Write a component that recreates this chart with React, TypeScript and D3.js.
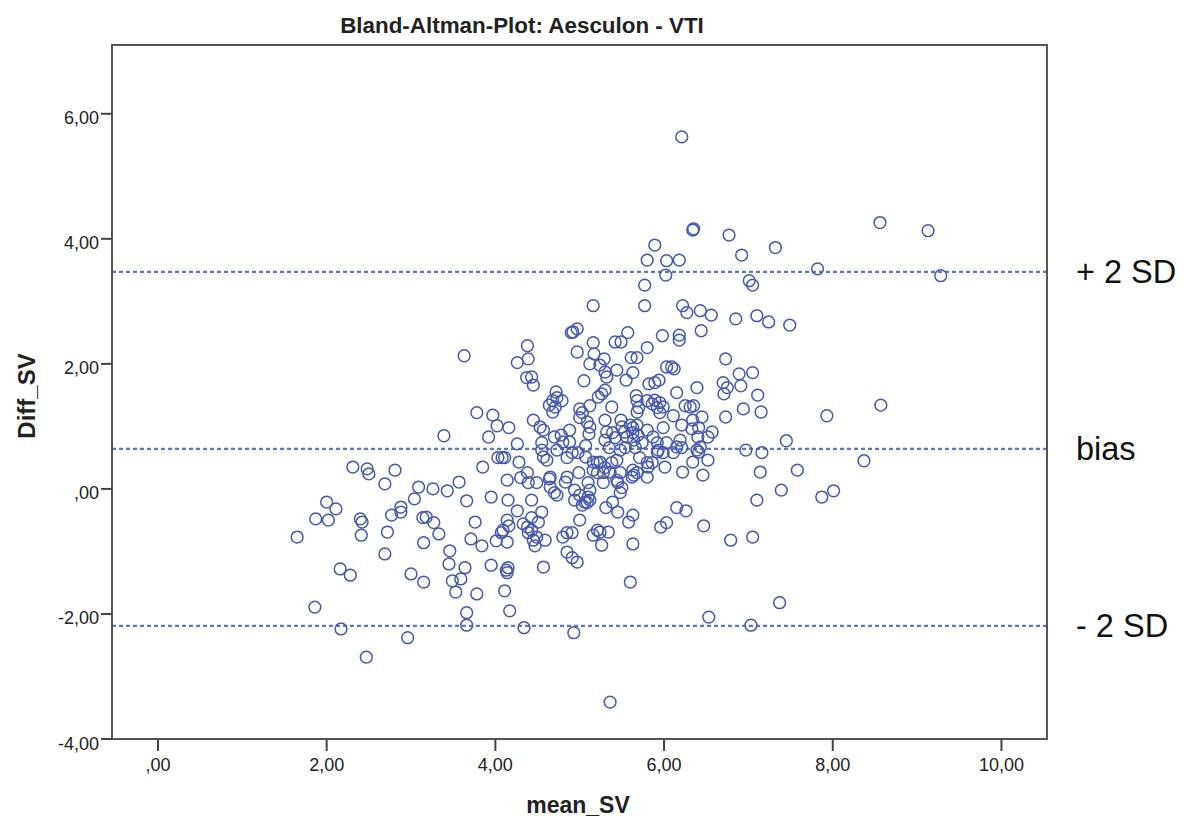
import React from "react";
import * as d3 from "d3";

const meanSV: number[] = [
1.65,1.87,2.00,2.02,2.11,2.16,2.28,1.86,2.17,2.31,2.48,2.50,2.81,2.69,2.40,2.42,2.41,2.72,2.69,2.77,2.88,2.88,3.09,3.04,3.26,3.43,3.14,3.18,3.27,3.33,3.15,3.00,3.15,2.96,2.47,3.39,3.63,3.57,3.66,3.46,3.45,3.64,3.49,3.59,3.53,3.78,3.71,3.84,3.66,3.66,3.76,3.95,3.95,4.01,4.07,4.14,4.15,4.16,4.26,4.33,4.38,4.39,4.13,4.14,4.15,4.11,4.17,4.34,
3.78,3.97,4.02,4.16,3.92,4.26,4.03,4.08,4.11,4.28,3.85,4.14,4.30,4.38,4.39,4.26,4.38,4.39,4.37,4.43,4.45,4.45,4.53,4.57,4.88,4.78,4.70,5.00,5.09,5.12,5.30,5.32,5.30,5.49,5.50,5.53,5.56,5.60,5.63,5.68,5.63,5.69,5.64,5.74,5.39,5.42,5.11,5.80,5.87,5.92,5.99,6.11,6.21,6.34,6.19,6.15,6.21,6.03,5.92,6.40,6.43,
4.55,4.55,4.57,4.61,4.73,4.80,4.88,4.85,4.91,5.07,4.98,5.07,5.16,5.21,5.24,5.35,5.38,5.48,5.54,5.44,5.66,5.71,5.63,5.80,5.81,5.86,5.93,5.99,6.11,6.34,6.22,6.01,4.65,4.85,4.99,5.16,5.21,5.28,5.36,5.48,5.62,5.68,5.80,
4.49,4.64,4.65,4.70,4.73,4.83,5.30,5.10,5.12,5.10,5.12,5.09,4.94,5.00,4.94,5.03,5.06,5.28,5.44,5.45,5.50,5.48,5.39,5.31,5.45,5.63,5.58,5.63,5.60,5.64,6.39,6.15,6.26,5.96,6.03,4.14,4.09,4.43,4.43,4.49,4.45,4.47,4.55,4.43,4.59,4.57,4.85,4.91,4.97,4.80,4.85,4.91,5.00,5.16,5.21,5.24,5.34,5.26,4.51,
5.77,6.02,5.16,5.77,6.22,6.27,6.44,4.90,4.92,4.97,5.57,5.42,5.49,5.98,6.18,6.18,4.97,5.16,5.17,5.12,5.29,5.80,5.61,5.68,5.24,5.30,5.44,5.63,5.32,6.03,6.09,6.12,5.05,5.55,5.82,5.94,5.89,6.15,6.39,4.72,4.73,4.68,4.64,4.71,4.79,4.68,5.30,5.26,5.22,5.38,5.12,5.67,5.68,5.70,5.68,5.00,5.03,5.80,5.86,5.89,5.95,5.92,5.99,5.95,6.25,6.31,6.35,
6.21,6.35,6.34,6.77,7.32,5.89,5.80,6.03,6.18,6.92,7.01,7.05,8.56,7.82,9.13,9.28,
6.43,6.56,6.85,7.10,7.24,7.49,6.73,6.89,7.05,6.70,6.75,6.71,6.91,7.11,6.45,6.41,6.33,6.73,6.94,7.15,7.93,8.57,6.57,6.52,7.45,6.41,6.52,6.46,6.97,7.16,7.14,7.58,8.37,7.39,7.10,7.87,8.01,6.47,6.79,7.05,7.37,6.53,7.03,
5.36,4.93
];

const diffSV: number[] = [
-0.77,-0.48,-0.21,-0.50,-0.32,-1.28,-1.38,-1.89,-2.24,0.35,0.32,0.24,0.30,0.08,-0.48,-0.53,-0.74,-0.69,-1.04,-0.42,-0.29,-0.37,0.03,-0.16,0.00,-0.03,-0.46,-0.45,-0.54,-0.72,-0.86,-1.36,-1.49,-2.38,-2.69,0.85,2.13,0.11,-0.19,-0.99,-1.20,-1.26,-1.47,-1.44,-1.65,-1.68,-0.80,-0.91,-1.98,-2.18,-0.53,-0.13,-1.22,-0.83,-0.70,-0.85,-0.18,-0.59,-0.35,-0.56,-0.61,-0.70,-1.30,-1.34,-1.26,-1.63,-1.95,-2.22,
1.22,1.18,1.01,0.98,0.83,0.72,0.50,0.50,0.50,0.43,0.35,0.14,0.18,0.26,0.10,2.02,2.29,2.08,1.78,1.79,1.66,1.10,0.99,0.94,0.94,0.86,0.83,1.14,1.07,0.99,1.10,0.91,0.78,1.10,0.99,0.91,0.83,1.02,0.98,1.02,0.90,0.86,0.78,0.74,0.90,0.82,0.88,0.94,0.83,0.74,0.98,1.17,1.02,1.10,0.78,0.67,0.66,0.74,0.59,0.83,0.67,
0.74,0.62,0.51,0.46,0.62,0.75,0.75,0.50,0.58,0.69,0.58,0.51,0.43,0.42,0.43,0.66,0.42,0.62,0.66,0.46,0.66,0.50,0.30,0.42,0.35,0.42,0.62,0.58,0.58,0.43,0.27,0.35,0.19,0.19,0.26,0.30,0.26,0.26,0.27,0.26,0.19,0.26,0.19,
0.10,0.16,0.03,-0.06,-0.10,0.11,0.34,0.10,-0.02,-0.13,-0.18,-0.22,-0.02,-0.10,-0.18,-0.26,-0.21,0.10,0.14,0.10,0.02,-0.06,-0.21,-0.30,-0.37,-0.42,-0.53,-0.88,-1.49,0.22,0.62,-0.30,-0.35,-0.61,-0.54,-0.50,-0.66,-0.46,-0.66,-0.77,-0.82,-0.91,-0.37,-0.18,-0.82,-1.25,-1.01,-1.10,-1.17,-0.77,-0.70,-0.70,-0.50,-0.74,-0.66,-0.69,-0.69,-0.90,-0.53,
3.26,3.42,2.93,2.93,2.93,2.82,2.53,2.50,2.51,2.56,2.50,2.35,2.35,2.45,2.46,2.38,2.19,2.34,2.16,2.00,2.08,2.26,2.10,2.10,1.98,1.87,1.90,1.86,1.79,1.95,1.95,1.92,1.73,1.74,1.68,1.74,1.70,1.54,1.62,1.55,1.46,1.41,1.34,1.31,1.41,1.23,1.58,1.52,1.47,1.31,1.33,1.49,1.41,1.30,1.23,1.28,1.22,1.41,1.36,1.42,1.38,1.30,1.31,1.22,1.33,1.31,1.33,
5.63,4.16,4.14,4.06,3.86,3.90,3.66,3.65,3.66,3.74,3.33,3.26,4.26,3.52,4.13,3.41,
2.85,2.78,2.72,2.77,2.67,2.62,2.08,1.84,1.86,1.70,1.62,1.52,1.65,1.50,1.15,0.98,0.96,1.15,1.28,1.23,1.17,1.34,0.91,0.83,0.77,0.59,0.46,0.22,0.62,0.58,0.27,0.30,0.45,-0.02,-0.18,-0.13,-0.03,-0.59,-0.82,-0.77,-1.82,-2.05,-2.18,
-3.41,-2.30
];

const xTicks: number[] = [0, 2, 4, 6, 8, 10];
const yTicks: number[] = [-4, -2, 0, 2, 4, 6];
const refValues: number[] = [3.47, 0.64, -2.19];
const refLabels: string[] = ["+ 2 SD", "bias", "- 2 SD"];

const W = 1184;
const H = 822;
const left = 112, right = 1047, top = 45, bottom = 739;

const fmt = (v: number) => {
  const s = Math.abs(v).toFixed(2).replace(".", ",");
  const t = Math.abs(v) < 1 ? s.replace(/^0/, "") : s;
  return (v < 0 ? "-" : "") + t;
};

export default function App() {
  const x = d3.scaleLinear().domain([-0.545, 10.54]).range([left, right]);
  const y = d3.scaleLinear().domain([-4, 7.1]).range([bottom, top]);
  const font = "Arial, 'Liberation Sans', sans-serif";
  const pts = meanSV.map((m, i) => [m, diffSV[i]]);
  return (
    <svg width={W} height={H} style={{ position: "absolute", left: 0, top: 0, background: "#fff" }} fontFamily={font}>
      <rect x={0} y={0} width={W} height={H} fill="#fff" />
      <text x={522} y={33} textAnchor="middle" fontWeight="bold" fontSize={22.4} fill="#222">
        Bland-Altman-Plot: Aesculon - VTI
      </text>
      {refValues.map((v, i) => (
        <g key={"r" + i}>
          <line x1={left} x2={right} y1={y(v)} y2={y(v)} stroke="#6274c6" strokeWidth={2.2} strokeDasharray="4,3" />
          <text x={1076} y={y(v) + 11} fontSize={32.5} fill="#111">{refLabels[i]}</text>
        </g>
      ))}
      {pts.map((p, i) => (
        <circle key={i} cx={x(p[0])} cy={y(p[1])} r={5.9} fill="none" stroke="#4659b0" strokeWidth={1.5} />
      ))}
      <rect x={left} y={top} width={right - left} height={bottom - top} fill="none" stroke="#555" strokeWidth={2} />
      {yTicks.map((t) => (
        <g key={"y" + t}>
          <line x1={101} x2={left} y1={y(t)} y2={y(t)} stroke="#444" strokeWidth={2} />
          <text x={99} y={y(t) + 10.5} textAnchor="end" fontSize={18} fill="#222">{fmt(t)}</text>
        </g>
      ))}
      {xTicks.map((t) => (
        <g key={"x" + t}>
          <line x1={x(t)} x2={x(t)} y1={bottom} y2={751} stroke="#444" strokeWidth={2} />
          <text x={x(t)} y={771} textAnchor="middle" fontSize={18} fill="#222">{fmt(t)}</text>
        </g>
      ))}
      <text x={578} y={813} textAnchor="middle" fontWeight="bold" fontSize={23} fill="#222">mean_SV</text>
      <text transform="translate(35,396) rotate(-90)" textAnchor="middle" fontWeight="bold" fontSize={24} fill="#222">Diff_SV</text>
    </svg>
  );
}
